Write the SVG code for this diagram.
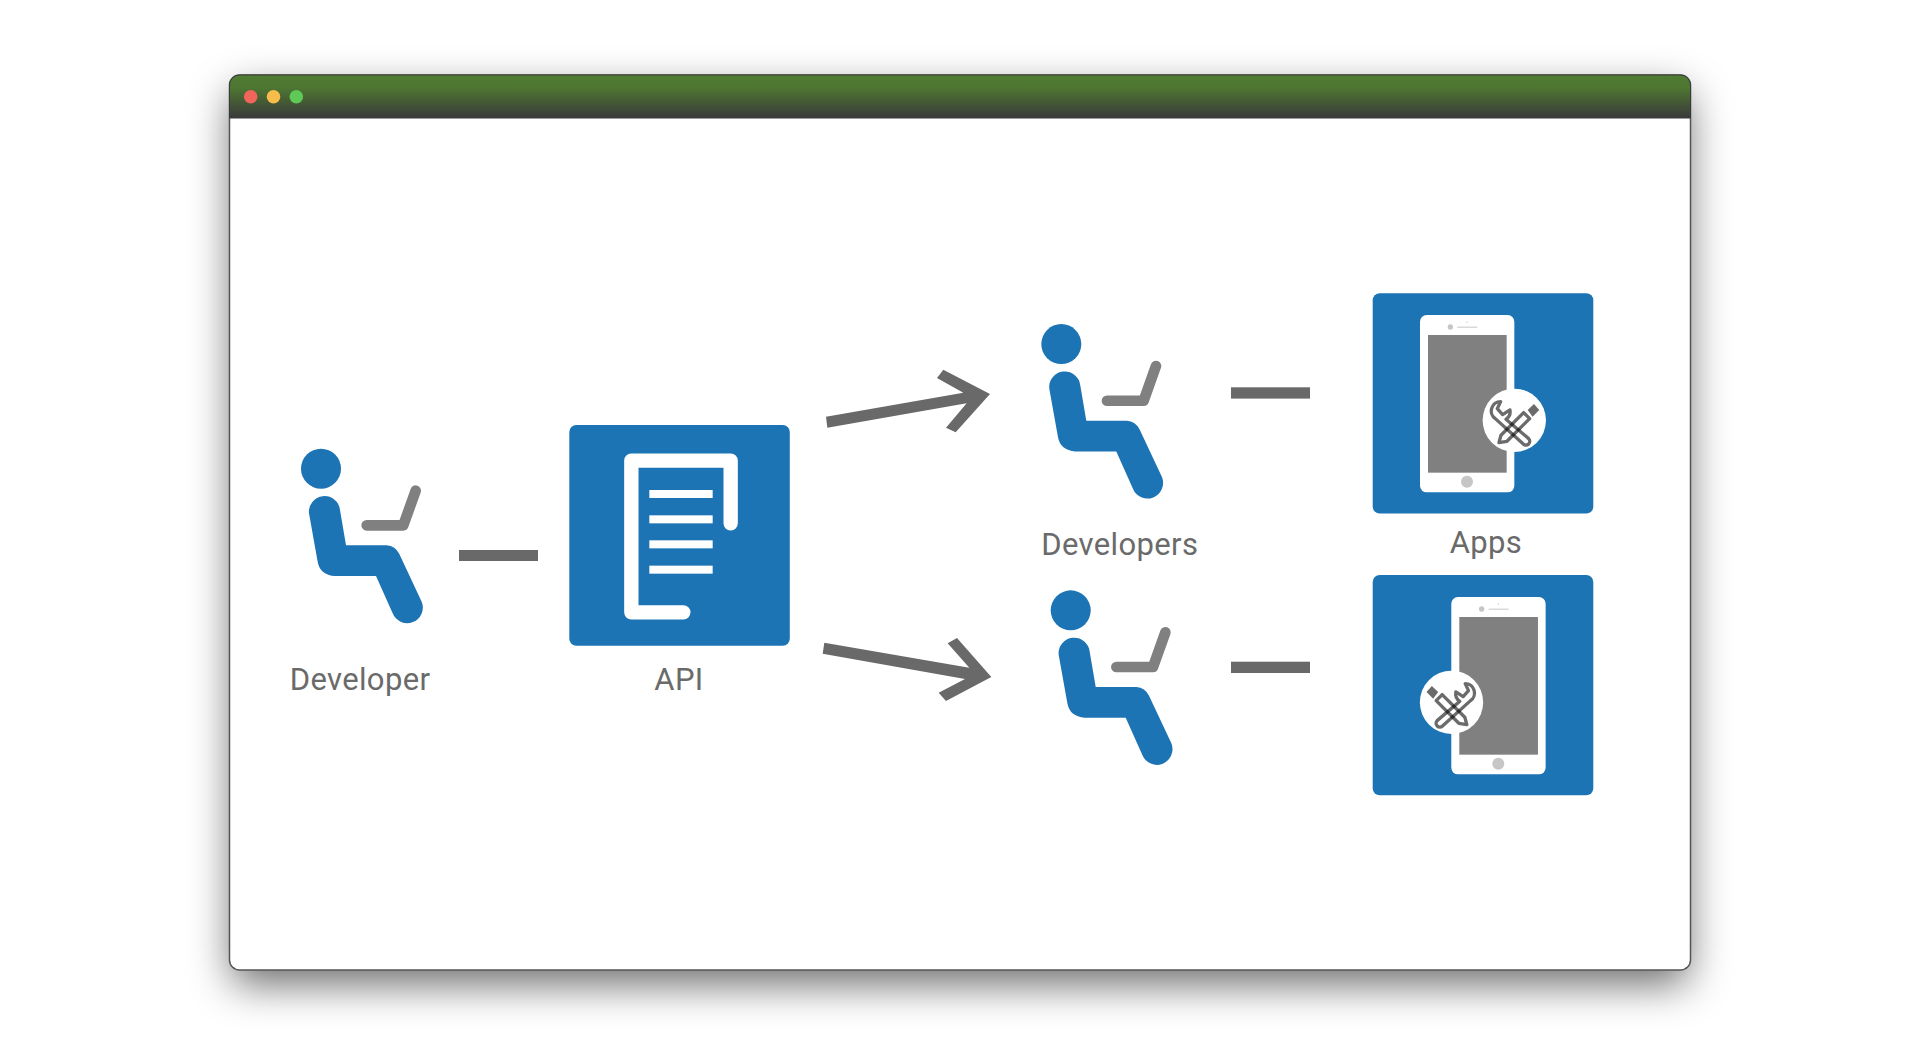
<svg xmlns="http://www.w3.org/2000/svg" xmlns:xlink="http://www.w3.org/1999/xlink" width="1920" height="1046" viewBox="0 0 1920 1046">
<style>
.lbl{font-family:Roboto,"Liberation Sans",sans-serif;font-size:31px;fill:#6a6a6a;letter-spacing:.35px}
.box{fill:#1d74b5}
.wire{fill:#696969;stroke:none}
.tool{fill:none;stroke:#000;stroke-opacity:.58;stroke-width:10;stroke-linejoin:round}
</style>
<defs>
<linearGradient id="title" x1="0" y1="0" x2="0" y2="1"><stop offset="0" stop-color="#507c32"/><stop offset=".3" stop-color="#4e7632"/><stop offset="1" stop-color="#393939"/></linearGradient>
<filter id="shadow" x="-10%" y="-15%" width="120%" height="135%"><feGaussianBlur stdDeviation="21"/></filter>
<g id="person">
<circle cx="153" cy="146" r="60" fill="#1d74b5"/>
<path fill="#1d74b5" d="M117 280A46.500 46.500 0 0 1 210 270L228 376L350 376Q376 378 388 402L455 545A46.500 46.500 0 0 1 368 580L318 468L195 468Q150 465 143 425Z"/>
<path fill="none" stroke="#808080" stroke-width="32" stroke-linecap="round" stroke-linejoin="round" d="M290 316L400 316L437 212"/>
</g>
<g id="phone">
<rect x="180" y="105" width="283" height="532" rx="20" fill="#fff"/>
<rect x="204" y="165" width="236" height="413" fill="#808080"/>
<circle cx="271" cy="141" r="8" fill="#c6c6c6"/>
<rect x="292" y="140" width="60" height="3" fill="#c6c6c6"/>
<circle cx="321" cy="126" r="1.500" fill="#999"/>
<circle cx="321" cy="605" r="18" fill="#c6c6c6"/>
</g>
<g id="tools">
<circle cx="163" cy="121" r="95" fill="#fff"/>
<path fill="#000" fill-opacity=".58" d="M203 90L222 72L238 90L218 110Z"/>
<path class="tool" d="M191 98L123 166L117 188L141 184L209 116Z"/>
<path class="tool" d="M122 65A28 28 0 0 0 106 116L190 192A11 11 0 0 0 206 176L138 118A28 28 0 0 0 150 90L128 104L112 86Z"/>
</g>
</defs>
<g id="window">
<rect x="232" y="92" width="1456" height="892" rx="10" fill="#000" fill-opacity=".58" filter="url(#shadow)"/>
<rect x="229.500" y="75" width="1461" height="895" rx="10" fill="#fff" stroke="#555" stroke-width="1.500"/>
<path d="M229.500 118V85A10 10 0 0 1 239.500 75H1680.500A10 10 0 0 1 1690.500 85V118Z" fill="url(#title)" stroke="#3a3a3a" stroke-width="1"/>
<circle cx="250.700" cy="96.700" r="6.800" fill="#f1655c"/>
<circle cx="273.500" cy="96.700" r="6.800" fill="#f8bc4a"/>
<circle cx="296.300" cy="96.700" r="6.800" fill="#5fc955"/>
</g>
<g id="connectors">
<rect class="wire" x="459" y="550" width="79" height="11"/>
<rect class="wire" x="1231" y="387.300" width="79" height="11.300"/>
<rect class="wire" x="1231" y="661.700" width="79" height="11.300"/>
<polygon class="wire" transform="translate(810 350) scale(.33333)" points="48,200 460,128 381,84 400,59 540,132 437,247 408,233 470,160 52,233"/>
<polygon class="wire" transform="translate(810 350) scale(.33333)" points="43,878 478,953 413,880 441,864 544,981 408,1053 386,1028 465,987 38,911"/>
</g>
<g id="developer">
<use xlink:href="#person" href="#person" transform="translate(270 420) scale(.33333)"/>
<text class="lbl" x="360" y="690" text-anchor="middle">Developer</text>
</g>
<g id="api">
<rect class="box" x="569.300" y="425" width="220.500" height="220.700" rx="7"/>
<g transform="translate(560 410) scale(.33333)">
<path fill="none" stroke="#fff" stroke-width="43" stroke-linecap="round" stroke-linejoin="round" d="M370 607L214 607L214 152L512 152L512 340"/>
<rect x="268" y="240" width="190" height="24" fill="#fff"/>
<rect x="268" y="316" width="190" height="24" fill="#fff"/>
<rect x="268" y="391" width="190" height="24" fill="#fff"/>
<rect x="268" y="467" width="190" height="24" fill="#fff"/>
</g>
<text class="lbl" x="679" y="690" text-anchor="middle">API</text>
</g>
<g id="developers-top">
<use xlink:href="#person" href="#person" transform="translate(1010.300 295.400) scale(.33333)"/>
<text class="lbl" x="1119.800" y="554.500" text-anchor="middle">Developers</text>
</g>
<g id="developers-bottom">
<use xlink:href="#person" href="#person" transform="translate(1019.700 561.700) scale(.33333)"/>
</g>
<g id="apps-top">
<rect class="box" x="1372.700" y="293.300" width="220.600" height="220.300" rx="7"/>
<use xlink:href="#phone" href="#phone" transform="translate(1360 280) scale(.33333)"/>
<use xlink:href="#tools" href="#tools" transform="translate(1514.300 420.300) scale(.33333) translate(-163 -121)"/>
<text class="lbl" x="1486" y="553" text-anchor="middle">Apps</text>
</g>
<g id="apps-bottom">
<rect class="box" x="1372.700" y="575" width="220.600" height="220.300" rx="7"/>
<use xlink:href="#phone" href="#phone" transform="translate(1391.300 562) scale(.33333)"/>
<use xlink:href="#tools" href="#tools" transform="translate(1451.500 702.300) scale(-.33333 .33333) translate(-163 -121)"/>
</g>
</svg>
